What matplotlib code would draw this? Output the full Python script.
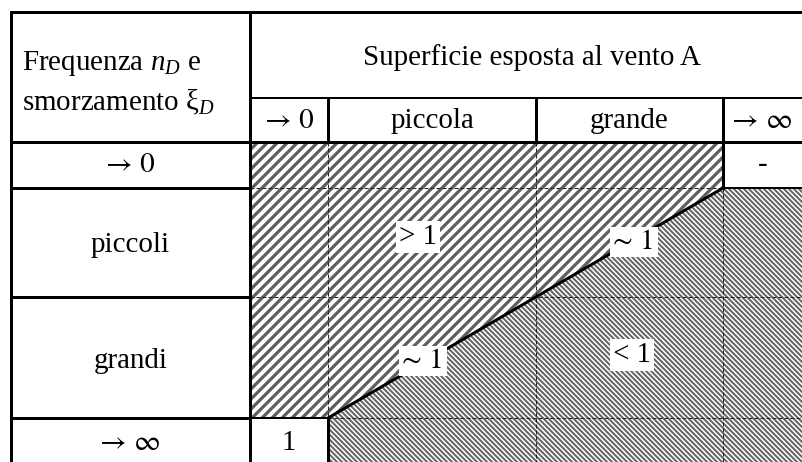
import matplotlib
matplotlib.use("Agg")
import matplotlib.pyplot as plt

# table content
header_title = "Superficie esposta al vento A"
corner_text = ["Frequenza $n_D$ e", "smorzamento ξ$_D$"]
col_labels = ["→ 0", "piccola", "grande", "→ ∞"]
row_labels = ["→ 0", "piccoli", "grandi", "→ ∞"]
plain_cells = [("-", 3, 0), ("1", 0, 3)]          # (text, column, row)
zone_labels = ["> 1", "∼ 1", "∼ 1", "< 1"]

# layout in pixels (image is 802 x 462, y down)
col_x = [11, 250, 328, 536, 723, 802]
row_y = [12, 98, 142, 188, 297, 418, 462]
zone_xy = [(418, 237), (634, 242), (423, 361), (632, 355)]

DPI = 60
PT = 72 / DPI          # points per pixel
FS = 29 * PT

plt.rcParams["font.family"] = ["Liberation Serif", "DejaVu Serif"]
plt.rcParams["mathtext.fontset"] = "custom"
plt.rcParams["mathtext.rm"] = "Liberation Serif"
plt.rcParams["mathtext.it"] = "Liberation Serif:italic"
SYMBOL_FONT = ["STIXGeneral", "Liberation Serif", "DejaVu Serif"]

fig = plt.figure(figsize=(802 / DPI, 462 / DPI), dpi=DPI)
ax = fig.add_axes([0, 0, 1, 1])
ax.set_xlim(0, 802)
ax.set_ylim(462, 0)
ax.axis("off")

xa, x0, x1, x2, x3, xe = col_x
ya, yh, y0, y1, y2, y3, ye = row_y

# hatched zones
plt.rcParams["hatch.linewidth"] = 3.0 * PT
upper = ax.fill([x0, x3, x3, x1, x0], [y0, y0, y1, y3, y3],
                facecolor="white", edgecolor="#5e5e5e", linewidth=0, hatch="//", zorder=1)[0]
lower = ax.fill([x3, xe, xe, x1, x1], [y1, y1, ye, ye, y3],
                facecolor="white", edgecolor="#666666", linewidth=0, hatch="\\\\\\\\", zorder=1)[0]
if hasattr(upper, "set_hatch_linewidth"):
    upper.set_hatch_linewidth(3.2 * PT)
    lower.set_hatch_linewidth(2.0 * PT)

# dashed grid inside the zones
dash = dict(color="#222222", linewidth=1 * PT, linestyle=(0, (4, 2)), zorder=2)
ax.plot([x1, x1], [y0, y3], **dash)
ax.plot([x2, x2], [y0, ye], **dash)
ax.plot([x3, x3], [y1, ye], **dash)
ax.plot([x0, x3], [y1, y1], **dash)
ax.plot([x0, xe], [y2, y2], **dash)
ax.plot([x1, xe], [y3, y3], **dash)

# boundary between the zones
ax.plot([x3, x1], [y1, y3], color="black", linewidth=3 * PT, zorder=3,
        solid_capstyle="round")

# solid table lines
thick = dict(color="black", linewidth=3 * PT, zorder=4, solid_capstyle="projecting")
thin = dict(color="black", linewidth=2 * PT, zorder=4, solid_capstyle="projecting")
ax.plot([xa, xe], [ya, ya], **thick)
ax.plot([xa, xa], [ya, ye], **thick)
ax.plot([x0, x0], [ya, ye], **thick)
ax.plot([x0, xe], [yh, yh], **thin)
ax.plot([xa, xe], [y0, y0], **thick)
for x in (x1, x2, x3):
    ax.plot([x, x], [yh, y0], **thick)
for y in (y1, y2, y3):
    ax.plot([xa, x0], [y, y], **thick)
ax.plot([x3, x3], [y0, y1], **thick)
ax.plot([x3, xe], [y1, y1], **thin)
ax.plot([x0, x1], [y3, y3], **thin)
ax.plot([x1, x1], [y3, ye], **thick)


def label(x, y, txt, **kw):
    if txt[0] in "→∼":
        kw["family"] = SYMBOL_FONT
    ax.text(x, y, txt, fontsize=FS, va="center", zorder=5, **kw)


# texts
label(22, 64, corner_text[0], ha="left")
label(22, 102, corner_text[1], ha="left")
label((x0 + xe) / 2 + 6, (ya + yh) / 2 + 3, header_title, ha="center")
for i, lab in enumerate(col_labels):
    label((col_x[i + 1] + col_x[i + 2]) / 2, (yh + y0) / 2 + 1, lab, ha="center")
row_mid = [(y0 + y1) / 2, (y1 + y2) / 2 + 3, (y2 + y3) / 2 + 3, 443]
for lab, ym in zip(row_labels, row_mid):
    label((xa + x0) / 2, ym, lab, ha="center")
for txt, c, r in plain_cells:
    label((col_x[c + 1] + col_x[c + 2]) / 2, row_mid[r], txt, ha="center")
for txt, (x, y) in zip(zone_labels, zone_xy):
    label(x, y, txt, ha="center",
          bbox=dict(boxstyle="square,pad=0.1", facecolor="white", edgecolor="none"))

fig.savefig("out.png", dpi=DPI)
